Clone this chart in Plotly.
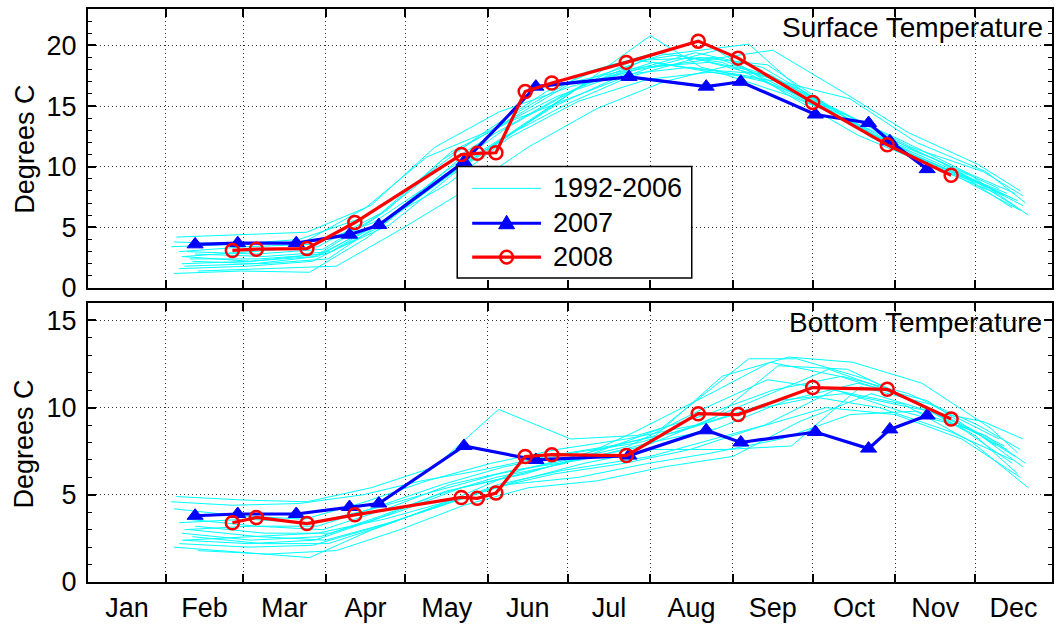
import plotly.graph_objects as go
from plotly.subplots import make_subplots

# ---- 2007 and 2008 station temperatures (day of year, degrees C) ----
days_2007 = [43, 59, 81, 101, 112, 144, 171, 206, 235, 248, 276, 296, 304, 318]
surface_2007 = [3.6, 3.7, 3.7, 4.4, 5.2, 10.4, 16.6, 17.4, 16.6, 17.0, 14.3, 13.6, 12.1, 9.8]
bottom_2007 = [3.8, 3.9, 3.9, 4.3, 4.5, 7.8, 7.0, 7.25, 8.7, 8.0, 8.6, 7.65, 8.75, 9.55]

days_2008 = [57, 66, 85, 103, 143, 149, 156, 167, 177, 205, 232, 247, 275, 303, 327]
surface_2008 = [3.1, 3.2, 3.25, 5.4, 11.0, 11.1, 11.15, 16.2, 16.9, 18.6, 20.35, 18.95, 15.3, 11.8, 9.3]
bottom_2008 = [3.4, 3.7, 3.35, 3.85, 4.85, 4.8, 5.1, 7.2, 7.3, 7.25, 9.65, 9.6, 11.15, 11.05, 9.35]

# ---- 1992-2006 climatology years ----
days_1992 = [35, 60, 86, 108, 131, 155, 178, 204, 229, 253, 280, 306, 331, 353]
surface_1992 = [1.2, 1.4, 1.3, 4.2, 8.2, 11.8, 15.0, 17.6, 18.2, 17.4, 14.6, 11.4, 9.0, 6.4]
bottom_1992 = [2.0, 1.7, 1.4, 2.9, 4.2, 5.4, 6.2, 6.8, 7.6, 8.8, 10.0, 9.6, 8.2, 6.0]

days_1993 = [38, 64, 90, 113, 137, 160, 186, 212, 238, 262, 288, 313, 338, 354]
surface_1993 = [2.6, 2.2, 2.8, 5.4, 9.6, 13.2, 16.4, 18.8, 19.0, 17.2, 14.0, 11.0, 8.6, 6.8]
bottom_1993 = [2.8, 2.4, 2.6, 3.8, 5.2, 6.0, 7.0, 7.8, 9.4, 12.4, 12.2, 10.4, 8.4, 6.6]

days_1994 = [34, 57, 82, 106, 128, 150, 175, 199, 224, 250, 276, 300, 327, 350]
surface_1994 = [3.4, 3.6, 4.0, 5.8, 9.0, 12.6, 16.2, 18.4, 19.2, 18.0, 15.2, 12.4, 9.8, 7.4]
bottom_1994 = [4.6, 4.4, 4.5, 5.0, 5.8, 6.4, 7.2, 7.8, 8.6, 9.8, 10.6, 10.0, 8.6, 7.0]

days_1995 = [42, 68, 93, 117, 141, 165, 190, 216, 241, 266, 290, 316, 342, 352]
surface_1995 = [2.2, 2.0, 2.4, 6.0, 10.4, 14.6, 17.8, 19.4, 18.6, 16.2, 13.6, 10.4, 8.2, 7.2]
bottom_1995 = [2.6, 2.2, 2.2, 3.4, 4.8, 6.4, 7.4, 8.4, 11.8, 12.9, 12.6, 11.4, 8.8, 7.4]

days_1996 = [37, 63, 87, 112, 136, 157, 181, 214, 233, 257, 283, 309, 335, 356]
surface_1996 = [1.6, 1.8, 2.2, 5.0, 9.2, 12.0, 15.6, 20.8, 18.2, 17.0, 14.8, 11.8, 9.2, 6.0]
bottom_1996 = [2.2, 2.0, 2.1, 3.2, 4.4, 5.6, 6.4, 7.2, 8.0, 9.0, 11.0, 10.2, 8.0, 5.4]

days_1997 = [40, 66, 91, 115, 139, 162, 188, 214, 239, 265, 292, 318, 344]
surface_1997 = [3.0, 2.8, 3.2, 6.4, 11.2, 13.8, 16.0, 18.2, 19.6, 16.0, 12.6, 10.2, 7.8]
bottom_1997 = [3.6, 3.2, 3.0, 4.2, 5.6, 6.4, 7.0, 8.0, 8.8, 10.4, 11.4, 10.4, 7.8]

days_1998 = [36, 61, 85, 109, 133, 157, 184, 209, 235, 260, 286, 311, 337, 353]
surface_1998 = [4.2, 4.4, 4.6, 6.8, 11.6, 14.5, 16.6, 18.0, 18.8, 19.6, 16.2, 12.8, 10.2, 8.0]
bottom_1998 = [4.9, 4.7, 4.6, 5.4, 6.6, 9.9, 8.2, 8.4, 9.6, 11.0, 11.8, 10.8, 9.0, 7.6]

days_1999 = [43, 69, 94, 119, 143, 167, 193, 218, 251, 269, 296, 321, 347]
surface_1999 = [2.8, 2.6, 3.0, 6.2, 10.0, 13.6, 17.4, 19.2, 20.1, 16.6, 12.8, 10.6, 7.6]
bottom_1999 = [3.2, 2.8, 2.8, 4.0, 5.4, 6.2, 7.4, 8.8, 12.8, 12.8, 11.6, 9.8, 7.8]

days_2000 = [39, 65, 89, 114, 138, 161, 187, 213, 237, 263, 289, 314, 340, 355]
surface_2000 = [1.8, 2.0, 2.6, 5.6, 8.6, 12.4, 15.4, 17.2, 17.8, 17.0, 15.6, 12.0, 9.6, 7.0]
bottom_2000 = [2.4, 2.6, 2.8, 3.6, 4.6, 5.6, 6.0, 6.8, 7.4, 8.2, 9.6, 9.8, 8.4, 6.8]

days_2001 = [35, 59, 84, 107, 130, 154, 179, 205, 231, 256, 281, 307, 333, 350]
surface_2001 = [3.8, 3.6, 3.8, 6.6, 10.8, 13.0, 15.8, 17.8, 19.4, 18.2, 15.0, 11.4, 9.0, 6.6]
bottom_2001 = [4.2, 3.8, 3.6, 4.6, 5.8, 6.8, 7.6, 8.2, 9.0, 10.6, 12.2, 10.8, 8.6, 6.8]

days_2002 = [41, 67, 92, 116, 140, 164, 189, 215, 242, 267, 293, 319, 345]
surface_2002 = [2.4, 2.4, 2.8, 5.2, 9.4, 13.0, 16.8, 18.6, 17.6, 15.8, 13.4, 10.8, 8.2]
bottom_2002 = [3.0, 2.6, 2.4, 3.4, 4.6, 5.8, 6.8, 7.6, 7.6, 7.8, 11.2, 10.2, 8.2]

days_2003 = [44, 70, 96, 120, 144, 168, 194, 219, 245, 270, 297, 323, 348]
surface_2003 = [1.4, 1.6, 1.8, 4.8, 8.0, 11.6, 14.8, 17.0, 18.4, 16.4, 12.4, 10.0, 7.8]
bottom_2003 = [1.8, 1.6, 1.8, 3.0, 4.4, 5.4, 5.8, 6.6, 7.2, 9.2, 10.8, 9.6, 7.6]

days_2004 = [38, 63, 88, 111, 134, 156, 182, 208, 234, 259, 285, 310, 336, 352]
surface_2004 = [2.0, 2.2, 2.6, 5.8, 9.8, 12.8, 16.0, 18.8, 18.0, 17.6, 14.2, 11.2, 8.8, 6.6]
bottom_2004 = [2.4, 2.2, 2.4, 3.6, 5.0, 6.0, 6.8, 8.6, 10.6, 12.6, 11.8, 10.6, 8.4, 6.2]

days_2005 = [37, 62, 87, 110, 133, 157, 183, 206, 232, 258, 284, 308, 334, 351]
surface_2005 = [3.0, 3.4, 3.6, 5.4, 8.8, 12.2, 15.2, 17.4, 19.0, 18.4, 14.6, 12.2, 9.4, 7.8]
bottom_2005 = [3.4, 3.6, 3.4, 4.2, 5.2, 6.2, 7.0, 7.8, 9.8, 11.6, 11.0, 9.8, 8.8, 7.2]

days_2006 = [39, 64, 89, 113, 136, 159, 185, 210, 236, 261, 287, 312, 339, 354]
surface_2006 = [2.6, 3.0, 3.4, 6.2, 10.6, 13.6, 17.0, 18.2, 18.6, 17.2, 14.4, 11.6, 9.6, 7.6]
bottom_2006 = [3.0, 3.2, 3.2, 4.4, 5.6, 6.6, 7.4, 8.0, 9.2, 10.4, 10.8, 10.0, 9.2, 8.2]

history = [
    (days_1992, surface_1992, bottom_1992),
    (days_1993, surface_1993, bottom_1993),
    (days_1994, surface_1994, bottom_1994),
    (days_1995, surface_1995, bottom_1995),
    (days_1996, surface_1996, bottom_1996),
    (days_1997, surface_1997, bottom_1997),
    (days_1998, surface_1998, bottom_1998),
    (days_1999, surface_1999, bottom_1999),
    (days_2000, surface_2000, bottom_2000),
    (days_2001, surface_2001, bottom_2001),
    (days_2002, surface_2002, bottom_2002),
    (days_2003, surface_2003, bottom_2003),
    (days_2004, surface_2004, bottom_2004),
    (days_2005, surface_2005, bottom_2005),
    (days_2006, surface_2006, bottom_2006),
]

# ---- axis labelling ----
month_names = ["Jan", "Feb", "Mar", "Apr", "May", "Jun",
               "Jul", "Aug", "Sep", "Oct", "Nov", "Dec"]
month_starts = [1, 32, 61, 92, 122, 153, 183, 214, 245, 275, 306, 336, 367]
surface_ticks = [0, 5, 10, 15, 20]
bottom_ticks = [0, 5, 10, 15]
legend_labels = ["1992-2006", "2007", "2008"]

XMIN, XMAX = 2.76, 364.9
label_pos = [(max(a, XMIN) + min(b, XMAX)) / 2
             for a, b in zip(month_starts[:-1], month_starts[1:])]

FONT = "Liberation Sans, Arial, Helvetica, sans-serif"
CYAN, BLUE, RED = "#00FFFF", "#0000FF", "#FF0000"
W, H = 1057, 626
ML, MR, MT, MB = 88, 3, 9, 42

fig = make_subplots(rows=2, cols=1, shared_xaxes=False, vertical_spacing=0.02609)

for row in (1, 2):
    for d, s, b in history:
        fig.add_trace(go.Scatter(
            x=d, y=s if row == 1 else b, mode="lines",
            line=dict(color=CYAN, width=1), hoverinfo="skip"),
            row=row, col=1)

    fig.add_trace(go.Scatter(
        x=days_2007, y=surface_2007 if row == 1 else bottom_2007,
        mode="lines+markers",
        line=dict(color=BLUE, width=3.2),
        marker=dict(symbol="triangle-up", size=14, color=BLUE,
                    line=dict(color=BLUE, width=1))),
        row=row, col=1)

    fig.add_trace(go.Scatter(
        x=days_2008, y=surface_2008 if row == 1 else bottom_2008,
        mode="lines+markers",
        line=dict(color=RED, width=3.2),
        marker=dict(symbol="circle-open", size=13, color=RED,
                    line=dict(color=RED, width=2.5))),
        row=row, col=1)

xaxis_style = dict(
    range=[XMIN, XMAX], tickmode="array", tickvals=label_pos,
    ticktext=month_names, ticks="", showgrid=False, zeroline=False,
    showline=True, linecolor="black", linewidth=2, mirror="ticks",
    tickfont=dict(family=FONT, size=27, color="black"),
    ticklabelstandoff=1,
    minor=dict(tickmode="array", tickvals=month_starts[1:12],
               ticks="inside", ticklen=8, tickwidth=2, tickcolor="black",
               showgrid=True, gridcolor="#333333", gridwidth=1,
               griddash="1px,3px"),
)
yaxis_style = dict(
    tickmode="array", ticks="inside", ticklen=8, tickwidth=2,
    tickcolor="black", showgrid=True, gridcolor="#333333", gridwidth=1,
    griddash="1px,3px", zeroline=False, showline=True, linecolor="black",
    linewidth=2, mirror="ticks",
    tickfont=dict(family=FONT, size=27, color="black"),
    ticklabelstandoff=4,
    minor=dict(dtick=1, ticks="inside", ticklen=4, tickwidth=1,
               tickcolor="black", showgrid=False),
)

fig.update_xaxes(**xaxis_style)
fig.update_xaxes(showticklabels=False, row=1, col=1)
fig.update_yaxes(**yaxis_style)
fig.update_yaxes(range=[0, 23], tickvals=surface_ticks, row=1, col=1)
fig.update_yaxes(range=[0, 16], tickvals=bottom_ticks, row=2, col=1)


# pixel position -> paper fraction of the plotting area
def fx(px):
    return (px - ML) / (W - ML - MR)


def fy(py):
    return (H - MB - py) / (H - MT - MB)


annotations = [
    dict(text="Surface Temperature", x=fx(1047), y=fy(28), xref="paper",
         yref="paper", xanchor="right", yanchor="middle", showarrow=False,
         font=dict(family=FONT, size=28, color="black")),
    dict(text="Bottom Temperature", x=fx(1046), y=fy(324), xref="paper",
         yref="paper", xanchor="right", yanchor="middle", showarrow=False,
         font=dict(family=FONT, size=28, color="black")),
    dict(text="Degrees C", x=fx(24), y=fy(150), xref="paper", yref="paper",
         textangle=-90, xanchor="center", yanchor="middle", showarrow=False,
         font=dict(family=FONT, size=27, color="black")),
    dict(text="Degrees C", x=fx(24), y=fy(446), xref="paper", yref="paper",
         textangle=-90, xanchor="center", yanchor="middle", showarrow=False,
         font=dict(family=FONT, size=27, color="black")),
]

# ---- legend box drawn inside the surface panel ----
box_l, box_t, box_r, box_b = 458, 167, 693, 279
row_y = [189, 224, 258]
sample_l, sample_r, sample_c, text_l = 473, 542, 507.5, 552
shapes = [dict(type="rect", xref="paper", yref="paper",
               x0=fx(box_l), x1=fx(box_r), y0=fy(box_b), y1=fy(box_t),
               fillcolor="white", line=dict(color="black", width=1.5),
               layer="above")]
for yy, col, wid in zip(row_y, [CYAN, BLUE, RED], [1, 3.2, 3.2]):
    shapes.append(dict(type="line", xref="paper", yref="paper",
                       x0=fx(sample_l), x1=fx(sample_r), y0=fy(yy), y1=fy(yy),
                       line=dict(color=col, width=wid), layer="above"))
tri_y = row_y[1]
shapes.append(dict(
    type="path", xref="paper", yref="paper", layer="above",
    path=(f"M {fx(sample_c - 8):.5f},{fy(tri_y + 5.5):.5f} "
          f"L {fx(sample_c + 8):.5f},{fy(tri_y + 5.5):.5f} "
          f"L {fx(sample_c):.5f},{fy(tri_y - 8):.5f} Z"),
    fillcolor=BLUE, line=dict(color=BLUE, width=1)))
r = 6.3
shapes.append(dict(type="circle", xref="paper", yref="paper", layer="above",
                   x0=fx(sample_c - r), x1=fx(sample_c + r),
                   y0=fy(row_y[2] + r), y1=fy(row_y[2] - r),
                   fillcolor="rgba(0,0,0,0)", line=dict(color=RED, width=2.5)))
for yy, lab in zip(row_y, legend_labels):
    annotations.append(dict(text=lab, x=fx(text_l), y=fy(yy), xref="paper",
                            yref="paper", xanchor="left", yanchor="middle",
                            showarrow=False,
                            font=dict(family=FONT, size=27, color="black")))

fig.update_layout(
    width=W, height=H,
    margin=dict(l=ML, r=MR, t=MT, b=MB),
    paper_bgcolor="white", plot_bgcolor="white",
    annotations=annotations, shapes=shapes,
    showlegend=False,
)

fig.write_html("out.html")
